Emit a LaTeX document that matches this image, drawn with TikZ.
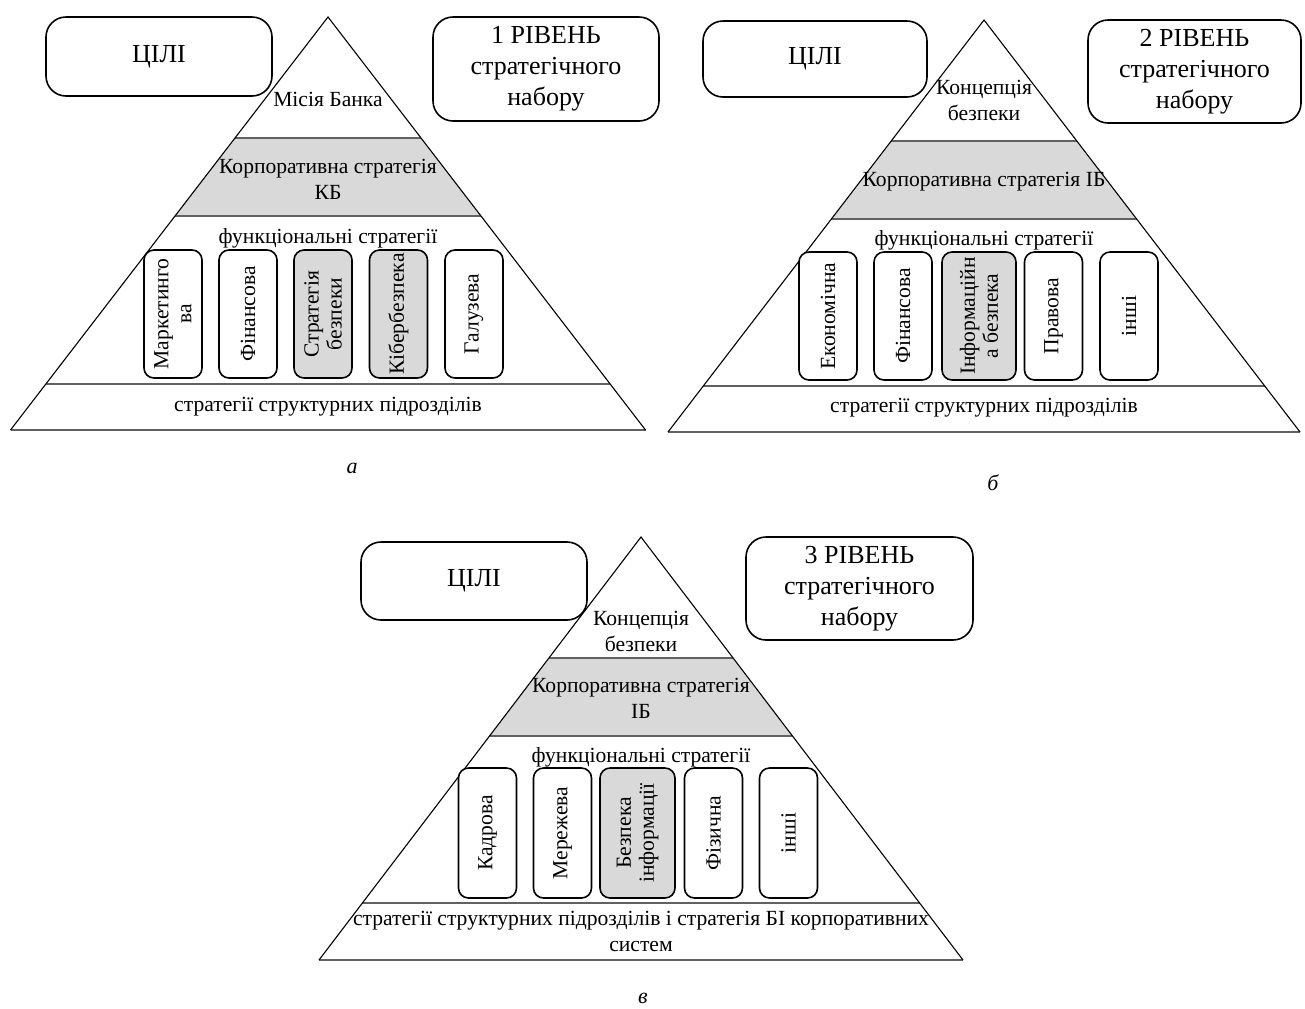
\documentclass[tikz,border=0pt]{standalone}
\usepackage{fontspec}
\setmainfont{Liberation Serif}
\usetikzlibrary{calc}

\tikzset{
  side/.style={line width=0.55pt, draw=black},
  tier/.style={line width=1.1pt, draw=black!62},
  band/.style={fill=black!15},
  txt/.style={font=\rmfamily\fontsize{10.8}{13}\selectfont, align=center, inner sep=0pt},
  goal/.style={draw, line width=0.8pt, rounded corners=10pt, minimum width=113pt,
    minimum height=39.5pt, font=\rmfamily\fontsize{13}{15.5}\selectfont, align=center, inner sep=0pt},
  lvl/.style={goal, minimum height=52pt},
  strat/.style={draw, line width=0.8pt, rounded corners=5pt, rotate=90, minimum width=64pt,
    minimum height=29pt, font=\rmfamily\fontsize{10.8}{11.5}\selectfont, align=center, inner sep=0pt, fill=white},
  hl/.style={fill=black!15},
  capt/.style={font=\rmfamily\itshape\fontsize{11}{13}\selectfont, inner sep=0pt}
}

\begin{document}
\begin{tikzpicture}[x=0.5pt,y=-0.5pt]
\useasboundingbox (0,0) rectangle (1305,1008);

% ---------- pyramid (a) ----------
\coordinate (aT) at (328,17);
\coordinate (aL) at (10.5,430);
\coordinate (aR) at (645.5,430);
\fill[band] ($(aT)!0.293!(aL)$) -- ($(aT)!0.293!(aR)$) -- ($(aT)!0.482!(aR)$) -- ($(aT)!0.482!(aL)$) -- cycle;
\draw[tier] ($(aT)!0.293!(aL)$) -- ($(aT)!0.293!(aR)$);
\draw[tier] ($(aT)!0.482!(aL)$) -- ($(aT)!0.482!(aR)$);
\draw[tier] ($(aT)!0.889!(aL)$) -- ($(aT)!0.889!(aR)$);
\draw[tier] (aL) -- (aR);
\draw[side] (aL) -- (aT) -- (aR);

\node[goal] (aGoal) at (159,56.5) {ЦІЛІ};
\node[lvl] (aLvl) at (546,69) {1 РІВЕНЬ\\стратегічного\\набору};
\node[txt] (aMis) at (328,99) {Місія Банка};
\node[txt] (aCorp) at (328,179) {Корпоративна стратегія\\КБ};
\node[txt] (aFun) at (328,238) {функціональні стратегії};
\node[strat] (a1) at (173,314) {Маркетинго\\ва};
\node[strat] (a2) at (248,314) {Фінансова};
\node[strat, hl] (a3) at (323,314) {Стратегія\\безпеки};
\node[strat, hl] (a4) at (398.5,314) {Кібербезпека};
\node[strat] (a5) at (474,314) {Галузева};
\node[txt] (aUnit) at (328,407) {стратегії структурних підрозділів};
\node[capt] (aCap) at (352,468) {а};

% ---------- pyramid (b) ----------
\coordinate (bT) at (984,20);
\coordinate (bL) at (668,432);
\coordinate (bR) at (1300,432);
\fill[band] ($(bT)!0.2937!(bL)$) -- ($(bT)!0.2937!(bR)$) -- ($(bT)!0.483!(bR)$) -- ($(bT)!0.483!(bL)$) -- cycle;
\draw[tier] ($(bT)!0.2937!(bL)$) -- ($(bT)!0.2937!(bR)$);
\draw[tier] ($(bT)!0.483!(bL)$) -- ($(bT)!0.483!(bR)$);
\draw[tier] ($(bT)!0.888!(bL)$) -- ($(bT)!0.888!(bR)$);
\draw[tier] (bL) -- (bR);
\draw[side] (bL) -- (bT) -- (bR);

\node[goal, minimum width=112pt, minimum height=38pt] (bGoal) at (815,59) {ЦІЛІ};
\node[lvl, minimum width=106.5pt, minimum height=51.5pt] (bLvl) at (1194.5,71.5) {2 РІВЕНЬ\\стратегічного\\набору};
\node[txt] (bCon) at (984,100.5) {Концепція\\безпеки};
\node[txt] (bCorp) at (984,182) {Корпоративна стратегія ІБ};
\node[txt] (bFun) at (984,240) {функціональні стратегії};
\node[strat] (b1) at (828,316) {Економічна};
\node[strat] (b2) at (903,316) {Фінансова};
\node[strat, hl, minimum height=37pt] (b3) at (979,316) {Інформаційн\\а безпека};
\node[strat] (b4) at (1053.5,316) {Правова};
\node[strat] (b5) at (1129,316) {інші};
\node[txt] (bUnit) at (984,408) {стратегії структурних підрозділів};
\node[capt] (bCap) at (993,483) {б};

% ---------- pyramid (c) ----------
\coordinate (cT) at (641,537);
\coordinate (cL) at (319,960);
\coordinate (cR) at (963,960);
\fill[band] ($(cT)!0.286!(cL)$) -- ($(cT)!0.286!(cR)$) -- ($(cT)!0.470!(cR)$) -- ($(cT)!0.470!(cL)$) -- cycle;
\draw[tier] ($(cT)!0.286!(cL)$) -- ($(cT)!0.286!(cR)$);
\draw[tier] ($(cT)!0.470!(cL)$) -- ($(cT)!0.470!(cR)$);
\draw[tier] ($(cT)!0.865!(cL)$) -- ($(cT)!0.865!(cR)$);
\draw[tier] (cL) -- (cR);
\draw[side] (cL) -- (cT) -- (cR);

\node[goal, minimum height=39pt] (cGoal) at (474,581) {ЦІЛІ};
\node[lvl, minimum width=113.5pt, minimum height=51.5pt] (cLvl) at (859.5,588.5) {3 РІВЕНЬ\\стратегічного\\набору};
\node[txt] (cCon) at (641,631) {Концепція\\безпеки};
\node[txt] (cCorp) at (641,698) {Корпоративна стратегія\\ІБ};
\node[txt] (cFun) at (641,757) {функціональні стратегії};
\node[strat, minimum width=65pt] (c1) at (487.5,833) {Кадрова};
\node[strat, minimum width=65pt] (c2) at (562.5,833) {Мережева};
\node[strat, hl, minimum width=65pt, minimum height=37.5pt] (c3) at (637.5,833) {Безпека\\інформації};
\node[strat, minimum width=65pt] (c4) at (713.5,833) {Фізична};
\node[strat, minimum width=65pt] (c5) at (788.5,833) {інші};
\node[txt] (cUnit) at (641,931.5) {стратегії структурних підрозділів і стратегія БІ корпоративних\\систем};
\node[capt] (cCap) at (643,998) {в};
\end{tikzpicture}
\end{document}
